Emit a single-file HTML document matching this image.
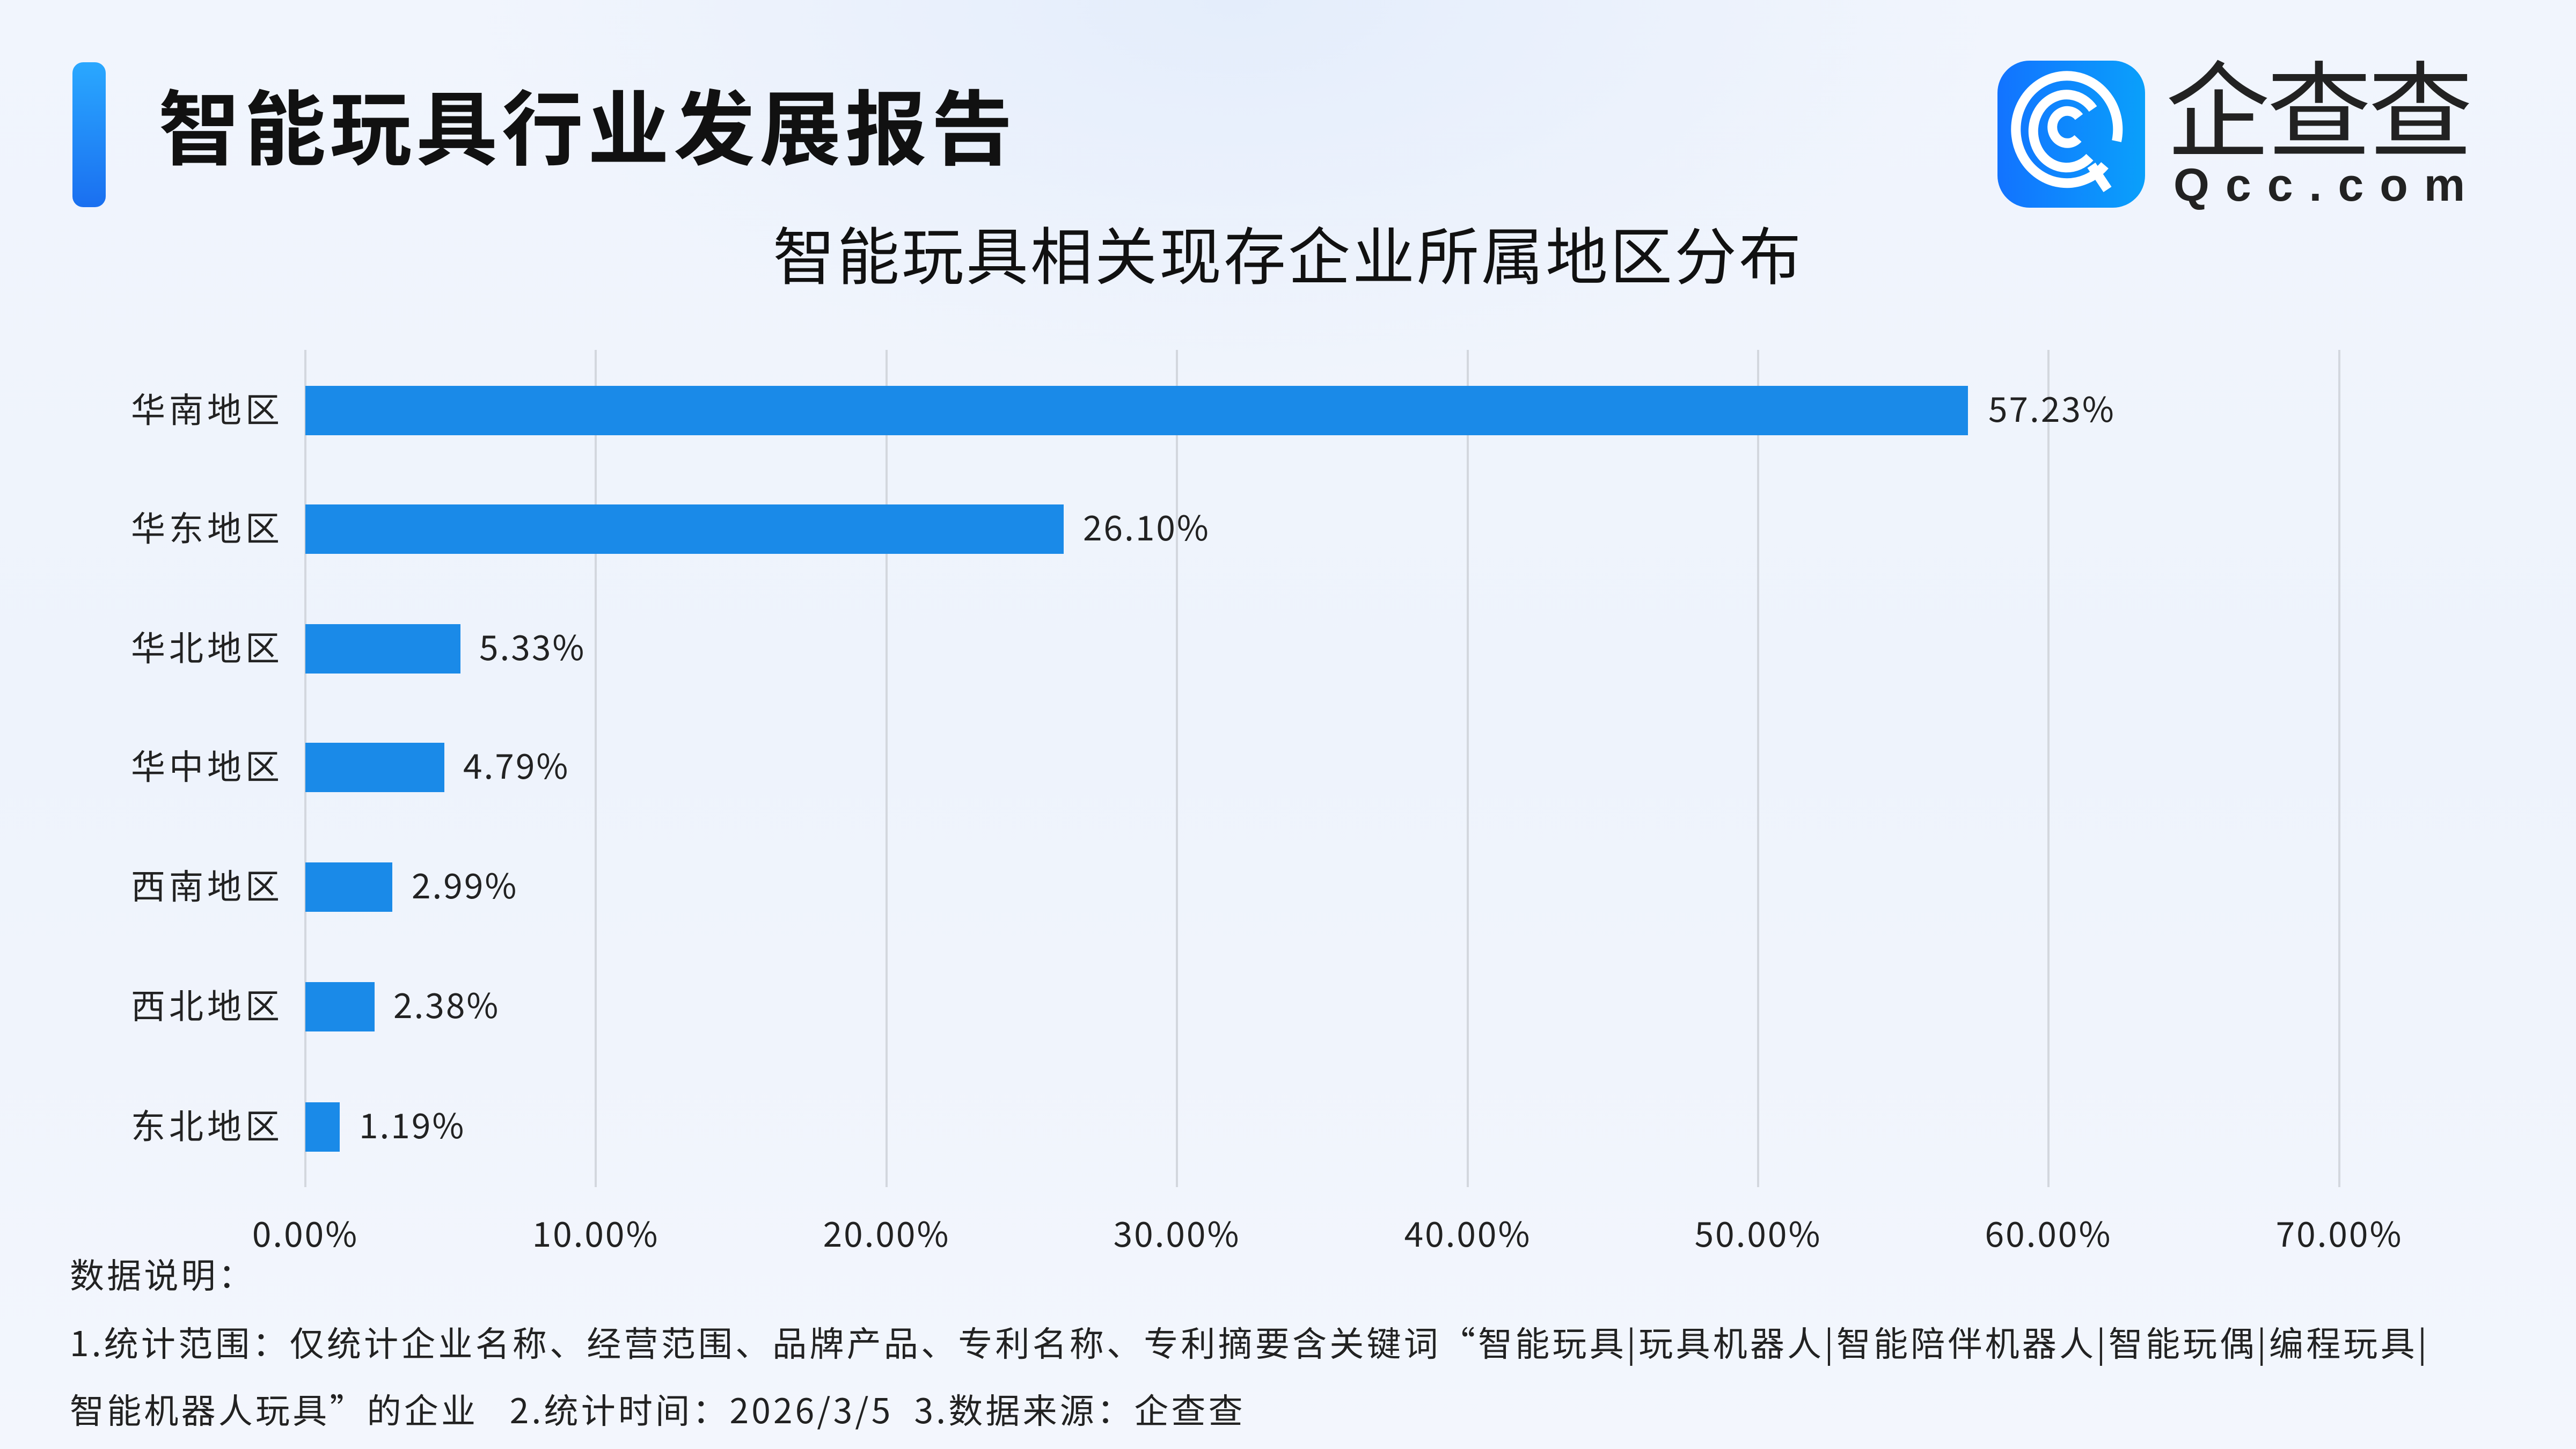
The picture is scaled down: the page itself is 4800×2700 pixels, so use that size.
<!DOCTYPE html>
<html><head><meta charset="utf-8"><style>
html,body{margin:0;padding:0}
body{width:4800px;height:2700px;overflow:hidden;position:relative;font-family:"Noto Sans CJK SC","Liberation Sans",sans-serif;
background:radial-gradient(ellipse 1400px 700px at 2300px 0px,#e4edfb 0%,rgba(228,237,251,0) 100%),linear-gradient(180deg,#f1f5fd 0%,#eef3fc 50%,#f3f6fd 100%);}
.t{position:absolute;white-space:nowrap}
</style></head><body>
<div style="position:absolute;left:135px;top:116px;width:62px;height:270px;border-radius:20px;background:linear-gradient(180deg,#2aa8ff,#1a6ff0)"></div>
<div class="t" style="left:295px;top:134px;font-size:152px;font-weight:bold;color:#111;line-height:190px;letter-spacing:8px">智能玩具行业发展报告</div>
<svg style="position:absolute;left:3722px;top:113px" width="275" height="274" viewBox="0 0 275 274">
<defs><linearGradient id="g" x1="0" x2="1"><stop offset="0" stop-color="#1273ff"/><stop offset="1" stop-color="#0aa0fb"/></linearGradient></defs>
<rect width="275" height="274" rx="60" fill="url(#g)"/>
<g fill="none" stroke="#fff" stroke-width="18">
<path d="M200 195 A95 100 0 1 1 222 150"/>
<path d="M172 180 A62 68 0 1 1 178 90"/>
<path d="M150 145 A28 30 0 1 1 152 105"/>
<path d="M175 195 L205 240"/></g></svg>
<div class="t" style="left:4035px;top:100px;font-size:195px;color:#222;line-height:220px;letter-spacing:-6px;font-family:'Liberation Sans','Noto Sans CJK SC',sans-serif">企查查</div>
<div class="t" style="left:4050px;top:300px;font-size:86px;color:#222;line-height:90px;letter-spacing:30px;font-weight:bold;font-family:'Liberation Sans',sans-serif">Qcc.com</div>
<div class="t" style="left:0;width:4800px;text-align:center;top:390px;font-size:116px;color:#111;line-height:160px;letter-spacing:4px">智能玩具相关现存企业所属地区分布</div>
<svg style="position:absolute;left:0;top:0" width="4800" height="2700" font-family="Noto Sans CJK SC,Liberation Sans,sans-serif">
<g stroke="#d3d7de" stroke-width="4">
<line x1="569" y1="652" x2="569" y2="2212"/><line x1="1110" y1="652" x2="1110" y2="2212"/><line x1="1652" y1="652" x2="1652" y2="2212"/><line x1="2193" y1="652" x2="2193" y2="2212"/><line x1="2735" y1="652" x2="2735" y2="2212"/><line x1="3276" y1="652" x2="3276" y2="2212"/><line x1="3817" y1="652" x2="3817" y2="2212"/><line x1="4359" y1="652" x2="4359" y2="2212"/></g>
<g fill="#1a8ae8">
<rect x="569" y="719" width="3098" height="92"/>
<rect x="569" y="940" width="1413" height="92"/>
<rect x="569" y="1163" width="289" height="92"/>
<rect x="569" y="1384" width="259" height="92"/>
<rect x="569" y="1607" width="162" height="92"/>
<rect x="569" y="1830" width="129" height="92"/>
<rect x="569" y="2054" width="64" height="92"/></g>
<g font-size="64" fill="#222" text-anchor="end" letter-spacing="7">
<text x="528" y="787">华南地区</text><text x="528" y="1008">华东地区</text><text x="528" y="1231">华北地区</text><text x="528" y="1452">华中地区</text><text x="528" y="1675">西南地区</text><text x="528" y="1898">西北地区</text><text x="528" y="2122">东北地区</text></g>
<g font-size="64" fill="#222" letter-spacing="3">
<text x="3705" y="786">57.23%</text><text x="2018" y="1007">26.10%</text><text x="893" y="1230">5.33%</text><text x="863" y="1451">4.79%</text><text x="767" y="1674">2.99%</text><text x="733" y="1897">2.38%</text><text x="669" y="2121">1.19%</text></g>
<g font-size="64" fill="#222" text-anchor="middle" letter-spacing="3">
<text x="569" y="2323">0.00%</text><text x="1110" y="2323">10.00%</text><text x="1652" y="2323">20.00%</text><text x="2193" y="2323">30.00%</text><text x="2735" y="2323">40.00%</text><text x="3276" y="2323">50.00%</text><text x="3817" y="2323">60.00%</text><text x="4359" y="2323">70.00%</text></g>
<g font-size="64" fill="#222" letter-spacing="5.2">
<text x="130" y="2400">数据说明：</text>
<text x="130" y="2527">1.统计范围：仅统计企业名称、经营范围、品牌产品、专利名称、专利摘要含关键词“智能玩具|玩具机器人|智能陪伴机器人|智能玩偶|编程玩具|</text>
<text x="130" y="2652" xml:space="preserve">智能机器人玩具”的企业   2.统计时间：2026/3/5  3.数据来源：企查查</text></g>
</svg>
</body></html>
